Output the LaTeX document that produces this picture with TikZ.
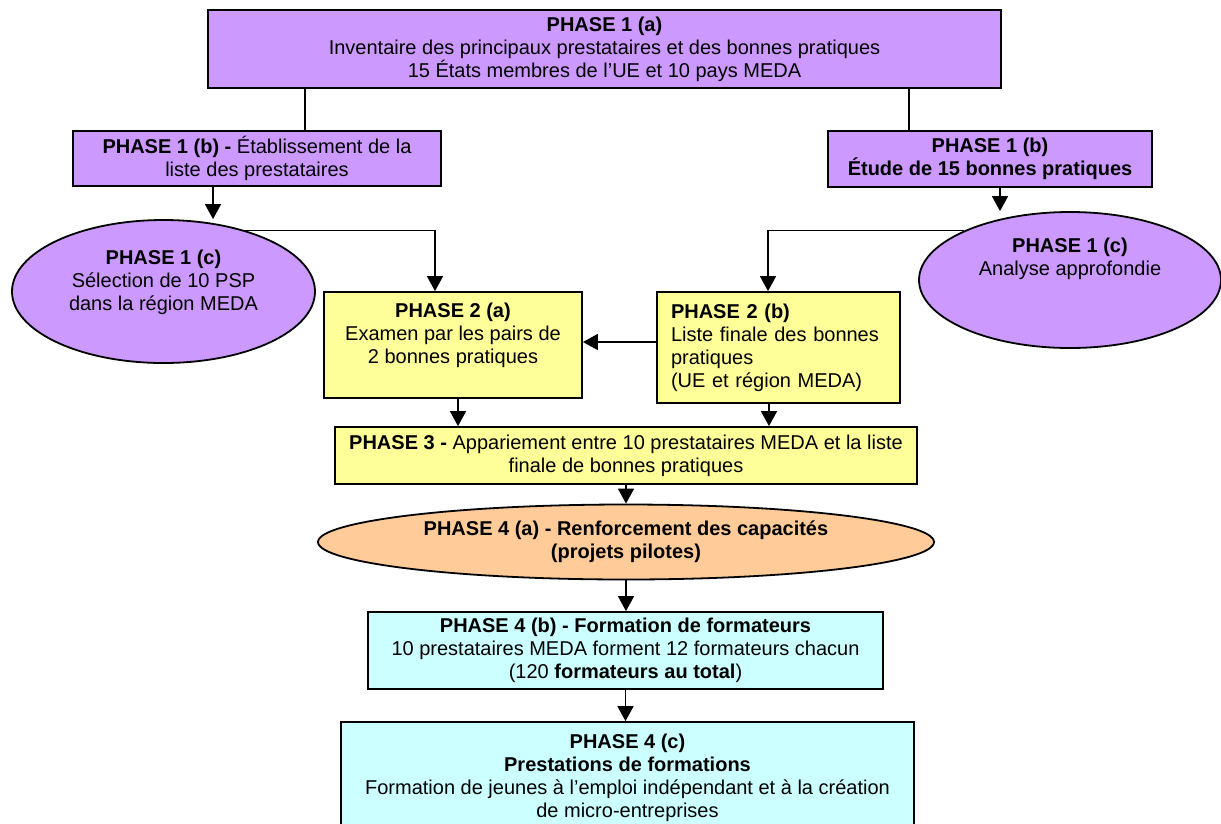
\documentclass[tikz,border=0pt]{standalone}
\usepackage{fontspec}
\setmainfont{Liberation Sans}
\usetikzlibrary{shapes.geometric,arrows.meta}

\definecolor{lilas}{HTML}{CC99FF}
\definecolor{jaune}{HTML}{FFFF99}
\definecolor{peche}{HTML}{FFCC99}
\definecolor{ciel}{HTML}{CCFFFF}

\tikzset{
  phase/.style={draw, line width=1.8pt, inner sep=0pt, align=center,
    font=\fontsize{20}{23}\selectfont},
  bulle/.style={phase, ellipse},
  trait/.style={line width=1.5pt},
  fleche/.style={trait, -{Triangle[width=16pt,length=15pt]}}
}

\begin{document}
\begin{tikzpicture}[x=1pt,y=-1pt]
  \useasboundingbox (0,0) rectangle (1221,823);

  % Phase 1: inventaire, listes et analyses
  \node[phase, fill=lilas, minimum width=793pt, minimum height=78pt] (p1a) at (604.5,49)
    {\textbf{PHASE 1 (a)}\\Inventaire des principaux prestataires et des bonnes pratiques\\15 États membres de l’UE et 10 pays MEDA};
  \node[phase, fill=lilas, minimum width=368pt, minimum height=55pt] (p1bg) at (257,158.5)
    {\textbf{PHASE 1 (b) -} Établissement de la\\liste des prestataires};
  \node[phase, fill=lilas, minimum width=324pt, minimum height=56pt] (p1bd) at (990,159)
    {\textbf{PHASE 1 (b)}\\\textbf{Étude de 15 bonnes pratiques}};
  \node[bulle, fill=lilas, minimum width=303pt, minimum height=143pt] (p1cg) at (163.5,291.5)
    {\textbf{PHASE 1 (c)}\\Sélection de 10 PSP\\dans la région MEDA\\~};
  \node[bulle, fill=lilas, minimum width=302pt, minimum height=136pt] (p1cd) at (1070,280)
    {\textbf{PHASE 1 (c)}\\Analyse approfondie\\~\\~};

  % Phase 2 et phase 3
  \node[phase, fill=jaune, minimum width=258pt, minimum height=106pt] (p2a) at (453,345)
    {\textbf{PHASE 2 (a)}\\Examen par les pairs de\\2 bonnes pratiques\\~};
  \node[phase, fill=jaune, align=left, text width=215pt, minimum width=243pt, minimum height=111pt] (p2b) at (778.5,347.5)
    {\textbf{PHASE 2 (b)}\\Liste finale des bonnes\\pratiques\\(UE et région MEDA)};
  \node[phase, fill=jaune, minimum width=582pt, minimum height=57pt] (p3) at (626,455.5)
    {\textbf{PHASE 3 -} Appariement entre 10 prestataires MEDA et la liste\\finale de bonnes pratiques};

  % Phase 4
  \node[bulle, fill=peche, minimum width=616pt, minimum height=75pt] (p4a) at (626,542)
    {\textbf{PHASE 4 (a) - Renforcement des capacités}\\\textbf{(projets pilotes)}};
  \node[phase, fill=ciel, minimum width=515pt, minimum height=77pt] (p4b) at (625.5,650.5)
    {\textbf{PHASE 4 (b) - Formation de formateurs}\\10 prestataires MEDA forment 12 formateurs chacun\\(120 \textbf{formateurs au total})};
  \node[phase, fill=ciel, minimum width=573pt, minimum height=112pt] (p4c) at (627.5,778)
    {\textbf{PHASE 4 (c)}\\\textbf{Prestations de formations}\\Formation de jeunes à l’emploi indépendant et à la création\\de micro-entreprises};

  % Liaisons
  \draw[trait] (305,0 |- p1a.south) -- (305,0 |- p1bg.north);
  \draw[trait] (909,0 |- p1a.south) -- (909,0 |- p1bd.north);
  \draw[fleche] (213,0 |- p1bg.south) -- (213,0 |- p1cg.north);
  \draw[fleche] (1000,0 |- p1bd.south) -- (1000,0 |- p1cd.north);
  \draw[fleche] (p1cg.37) -| (435,0 |- p2a.north);
  \draw[fleche] (p1cd.155) -| (768,0 |- p2b.north);
  \draw[fleche] (p2b.west |- 0,342) -- (p2a.east |- 0,342);
  \draw[fleche] (458,0 |- p2a.south) -- (458,0 |- p3.north);
  \draw[fleche] (769,0 |- p2b.south) -- (769,0 |- p3.north);
  \draw[fleche] (p3.south) -- (p4a.north);
  \draw[fleche] (p4a.south) -- (p4a.south |- p4b.north);
  \draw[fleche] (p4b.south) -- (p4b.south |- p4c.north);
\end{tikzpicture}
\end{document}
